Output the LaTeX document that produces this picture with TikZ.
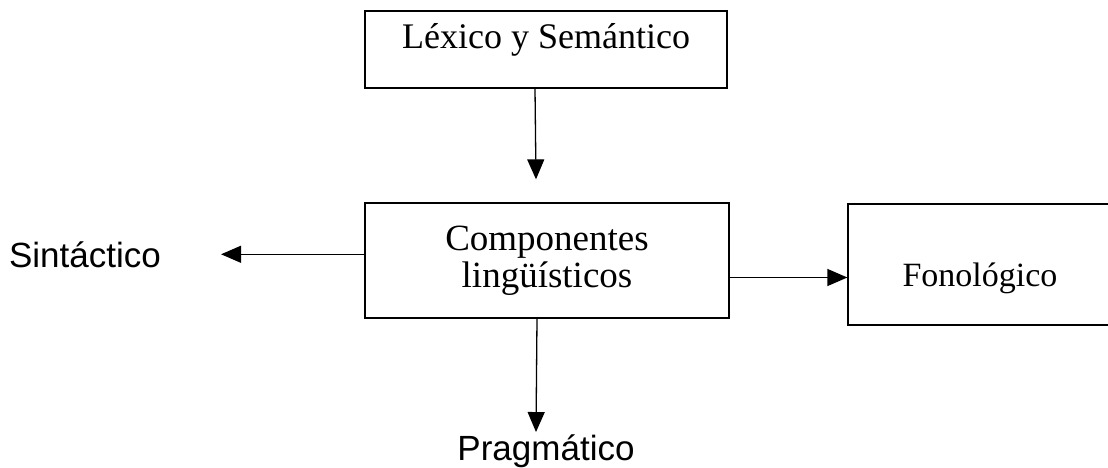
\documentclass[tikz,border=0pt]{standalone}
\usepackage{fontspec}
\setmainfont{Liberation Serif}
\setsansfont{Liberation Sans}
\usetikzlibrary{arrows.meta, positioning}

\begin{document}
\begin{tikzpicture}[x=1pt, y=-1pt,
        caja/.style={draw, line width=1.3pt, inner sep=0pt, align=center},
        etiqueta/.style={inner sep=0pt, anchor=base, font=\sffamily\fontsize{35}{39}\selectfont},
        flecha/.style={line width=1.3pt, -{Triangle[length=20pt, width=17pt]}}]
                \clip (0,0) rectangle (1108,468);
                \node[caja, minimum width=362pt, minimum height=77pt, text height=10pt, text depth=11pt, font=\fontsize{36}{40}\selectfont] (lex) at (546,49.5) {L\'exico y Sem\'antico};
                \node[caja, minimum width=364pt, minimum height=115pt, font=\fontsize{37}{37}\selectfont] (comp) at (547,260.5) {Componentes\\ ling\"u\'isticos};
                \node[caja, minimum width=264pt, minimum height=121pt, text height=49pt, text depth=6pt, font=\fontsize{34}{38}\selectfont] (fono) at (980,264.5) {Fonol\'ogico};
                \node[etiqueta] (sint) at (85,267) {Sint\'actico};
                \node[etiqueta] (prag) at (546,460) {Pragm\'atico};
                \coordinate (fonoin) at ([yshift=-13pt]fono.west);
                \draw[flecha] ([xshift=-11pt]lex.south) -- ([xshift=-11pt, yshift=23pt]comp.north);
                \draw[flecha] (comp.west |- sint.east) -- ([xshift=60pt]sint.east);
                \draw[flecha] (comp.east |- fonoin) -- (fonoin);
                \draw[flecha] ([xshift=-10pt]comp.south) -- ([xshift=-10pt, yshift=2pt]prag.north);
            \end{tikzpicture}
\end{document}
